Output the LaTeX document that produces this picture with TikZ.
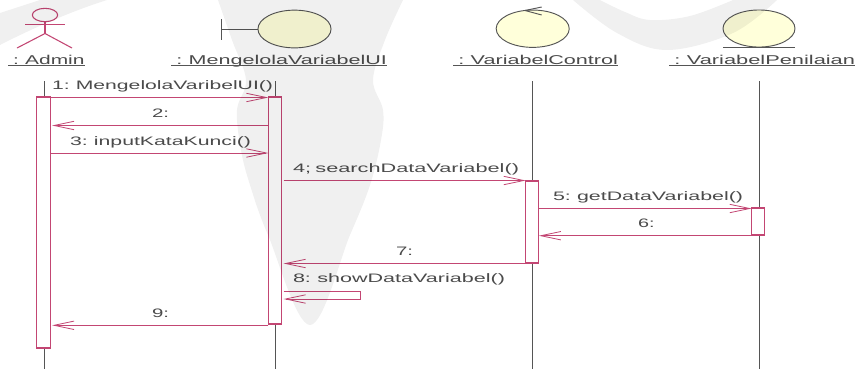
\documentclass[tikz,border=0pt]{standalone}
\usepackage{fontspec}
\setmainfont{Liberation Sans}
\usetikzlibrary{arrows.meta,shapes.geometric}
\definecolor{umlpink}{RGB}{195,70,115}
\definecolor{umlgray}{RGB}{85,85,85}
\definecolor{umltext}{RGB}{75,75,75}
\definecolor{umlfill}{RGB}{255,255,218}
\newcommand{\fitw}[2]{\resizebox{\dimexpr #1pt*3/4\relax}{\height}{\spaceskip=0.2em\relax #2}}
\tikzset{
  x=0.75pt,y=-0.75pt,
  txt/.style={inner sep=0pt,outer sep=0pt,anchor=base west,text=umltext,font=\fontsize{9.2pt}{11pt}\selectfont},
  objname/.style={txt,text depth=0pt,font=\fontsize{9.6pt}{11pt}\selectfont},
  under/.style={draw=umlgray,line width=0.8pt},
  act/.style={draw=umlpink,fill=white,line width=0.8pt,inner sep=0pt,outer sep=0pt,minimum width=9.9pt},
  life/.style={draw=umlgray,line width=0.8pt},
  msg/.style={draw=umlpink,line width=0.6pt,-{Straight Barb[length=15pt,width=6.3pt]}},
  icon/.style={draw=umlgray,fill=umlfill,line width=0.7pt,ellipse,inner sep=0pt,outer sep=0pt},
  stick/.style={draw=umlpink,line width=0.8pt},
  iconline/.style={draw=umlgray,line width=0.7pt},
  wm/.style={fill=black,fill opacity=0.06,draw=none}
}
\begin{document}
\begin{tikzpicture}
\useasboundingbox (0,0) rectangle (859,369);
\fill[white] (0,0) rectangle (859,369);
% lifeline end points
\coordinate (t1) at (44.5,81); \coordinate (b1) at (44.5,369);
\coordinate (t2) at (275.5,81); \coordinate (b2) at (275.5,369);
\coordinate (t3) at (532.7,81); \coordinate (b3) at (532.7,369);
\coordinate (t4) at (759.3,81); \coordinate (b4) at (759.3,369);
\draw[life] (t1) -- (b1);
\draw[life] (t2) -- (b2);
\draw[life] (t3) -- (b3);
\draw[life] (t4) -- (b4);
% actor
\node[draw=umlpink,line width=0.8pt,ellipse,inner sep=0pt,outer sep=0pt,minimum width=19pt,minimum height=10pt] (head) at (45,15) {};
\coordinate (hip) at (45,33.5);
\coordinate (armL) at (25,24.3); \coordinate (armR) at (65,24.3);
\coordinate (legL) at (17,48); \coordinate (legR) at (72,48);
\draw[stick] (head.south) -- (hip);
\draw[stick] (armL) -- (armR);
\draw[stick] (legL) -- (hip) -- (legR);
% boundary
\node[icon,minimum width=54.8pt,minimum height=28.3pt] (ui) at (294.5,29) {};
\coordinate (bar) at (221.5,29);
\coordinate (barT) at (221.5,19); \coordinate (barB) at (221.5,39.5);
\draw[iconline] (ui.west) -- (bar);
\draw[iconline] (barT) -- (barB);
% control
\node[icon,minimum width=54.8pt,minimum height=28pt] (ctl) at (532.7,28.7) {};
\coordinate (c1) at (541.7,7); \coordinate (c2) at (525,10.5); \coordinate (c3) at (541.7,15);
\draw[iconline] (c1) -- (c2) -- (c3);
% entity
\node[icon,minimum width=54pt,minimum height=27.8pt] (ent) at (759,28.5) {};
\coordinate (e1) at (723,47.7); \coordinate (e2) at (795,47.7);
\draw[iconline] (e1) -- (e2);
% object names
\node[objname] (n1) at (8,64) {\fitw{76.5}{\hspace*{0.25em}: Admin}};
\node[objname] (n2) at (171,64) {\fitw{216}{\hspace*{0.25em}: MengelolaVariabelUI}};
\node[objname] (n3) at (453,64) {\fitw{165}{\hspace*{0.25em}: VariabelControl}};
\node[objname] (n4) at (669,64) {\fitw{186}{\hspace*{0.25em}: VariabelPenilaian}};
\foreach \n in {n1,n2,n3,n4}
  \draw[under] ([yshift=-1.2pt]\n.south west) -- ([yshift=-1.2pt]\n.south east);
% activations
\node[act,minimum height=188.25pt] (a1) at (43.5,222.5) {};
\node[act,minimum height=170.25pt] (a2) at (275,210.5) {};
\node[act,minimum height=61.5pt] (a3) at (532.3,222) {};
\node[act,minimum height=20.25pt] (a4) at (758.3,221.5) {};
% message rows
\coordinate (m1) at (0,97.5); \coordinate (m2) at (0,125.5); \coordinate (m3) at (0,153);
\coordinate (m4) at (0,180.5); \coordinate (m5) at (0,208.5); \coordinate (m6) at (0,235.7);
\coordinate (m7) at (0,263.5); \coordinate (m8a) at (0,291.5); \coordinate (m8b) at (0,299);
\coordinate (m9) at (0,325.3);
\coordinate (selfR) at (360,0);
\draw[msg] (a1.east |- m1) -- (a2.west |- m1);
\draw[msg] (a2.west |- m2) -- ([xshift=1.5pt]a1.east |- m2);
\draw[msg] ([xshift=1pt]a1.east |- m3) -- (a2.west |- m3);
\draw[msg] ([xshift=1.5pt]a2.east |- m4) -- (a3.west |- m4);
\draw[msg] (a3.east |- m5) -- (a4.west |- m5);
\draw[msg] (a4.west |- m6) -- (a3.east |- m6);
\draw[msg] (a3.west |- m7) -- ([xshift=1.5pt]a2.east |- m7);
\draw[msg] ([xshift=1.5pt]a2.east |- m8a) -- (selfR |- m8a) -- (selfR |- m8b) -- ([xshift=1.5pt]a2.east |- m8b);
\draw[msg] (a2.west |- m9) -- ([xshift=1.5pt]a1.east |- m9);
% message labels
\node[txt] (l1) at (52,89) {\fitw{221}{1: MengelolaVaribelUI()}};
\node[txt] (l2) at (152,117) {\fitw{17}{2:}};
\node[txt] (l3) at (70,145) {\fitw{181}{3: inputKataKunci()}};
\node[txt] (l4) at (293,172) {\fitw{226}{4; searchDataVariabel()}};
\node[txt] (l5) at (553,200) {\fitw{190}{5: getDataVariabel()}};
\node[txt] (l6) at (638,227) {\fitw{16.5}{6:}};
\node[txt] (l7) at (396,255) {\fitw{17}{7:}};
\node[txt] (l8) at (293,282) {\fitw{212}{8: showDataVariabel()}};
\node[txt] (l9) at (152,317) {\fitw{17}{9:}};
% watermark
\fill[wm] plot[smooth,tension=0.6] coordinates {(218,0) (232,40) (246,80) (237,110) (241,150) (250,185) (268,235) (310,325) (350,235) (370,185) (381,140) (383,110) (373,80) (385,40) (403,0)} -- cycle;
\fill[wm] (0,45) .. controls (35,27) and (75,10) .. (107,0) -- (40,0) -- (0,13) -- cycle;
\fill[wm] plot[smooth,tension=0.6] coordinates {(573,0) (617,33) (667,50) (733,33) (777,0)} -- (733,0) -- plot[smooth,tension=0.6] coordinates {(733,0) (690,16) (650,20) (625,12) (600,0)} -- cycle;
\end{tikzpicture}
\end{document}
